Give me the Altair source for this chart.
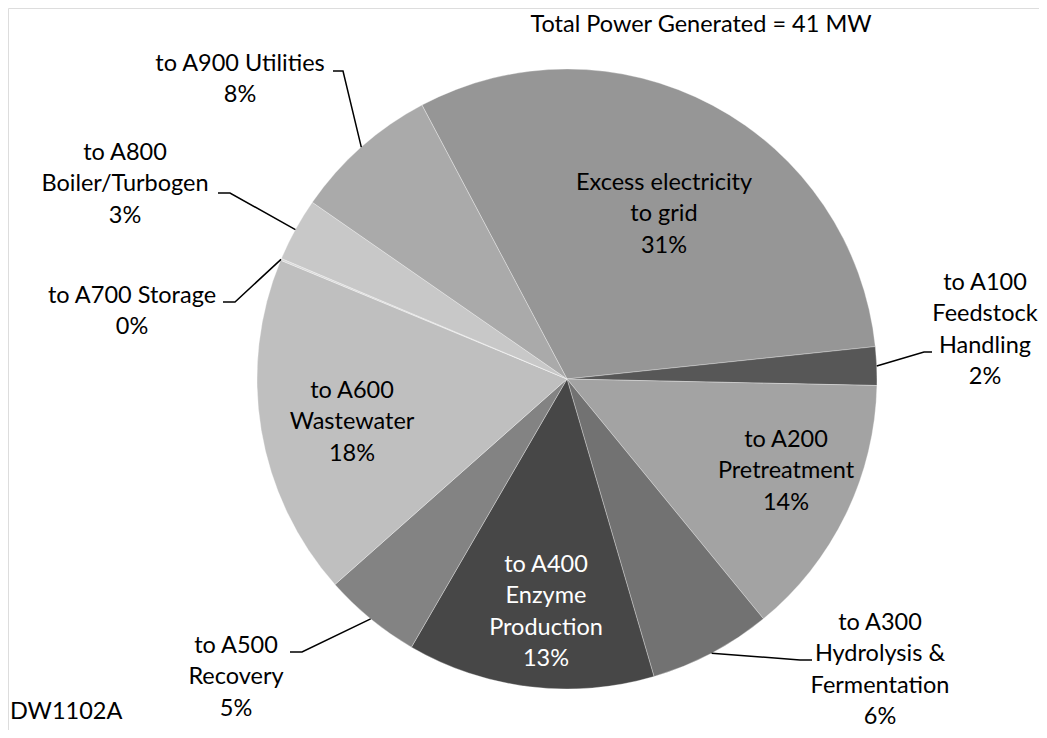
import math
import altair as alt
import pandas as pd

# ---------------- data ----------------
categories = [
    "Excess electricity to grid",
    "to A100 Feedstock Handling",
    "to A200 Pretreatment",
    "to A300 Hydrolysis & Fermentation",
    "to A400 Enzyme Production",
    "to A500 Recovery",
    "to A600 Wastewater",
    "to A700 Storage",
    "to A800 Boiler/Turbogen",
    "to A900 Utilities",
]
shares = [31.1, 2.0, 13.75, 6.4, 12.9, 5.1, 17.8, 0.1, 3.3, 7.6]  # % of 41 MW
label_lines = [
    ["Excess electricity", "to grid"],
    ["to A100", "Feedstock", "Handling"],
    ["to A200", "Pretreatment"],
    ["to A300", "Hydrolysis &", "Fermentation"],
    ["to A400", "Enzyme", "Production"],
    ["to A500", "Recovery"],
    ["to A600", "Wastewater"],
    ["to A700 Storage"],
    ["to A800", "Boiler/Turbogen"],
    ["to A900 Utilities"],
]
title_text = "Total Power Generated = 41 MW"
footnote_text = "DW1102A"

# ---------------- styling / layout ----------------
colors = ["#969696", "#575757", "#a3a3a3", "#727272", "#474747",
          "#838383", "#bfbfbf", "#d9d9d9", "#c8c8c8", "#aaaaaa"]
text_colors = ["#000000"] * 10
text_colors[4] = "#ffffff"

W, H = 1031, 722
OFF = 8  # page margin
CX, CY, R = 567 - OFF, 379 - OFF, 310
START = math.radians(-27.9)
FONT = "Lato"
FS = 23.5
LH = 31.3

# first-line centre of each label block (page coords)
label_pos = [
    (664, 183), (985, 283), (786, 440), (880, 623), (546, 565),
    (236, 646), (352, 391), (132, 296), (125, 153), (240, 64),
]
# leader lines: (label end point, elbow point) in page coords, None = inside label
leaders = [
    None, ((932, 352), (924, 352)), None, ((812, 660), (800, 660)), None,
    ((290, 652), (302, 652)), None, ((223, 302), (235, 302)),
    ((218, 193), (230, 193)), ((333, 71), (343, 71)),
]

total = sum(shares)
pie_df = pd.DataFrame({"category": categories, "share": shares, "idx": range(len(shares))})

lab_rows = []
line_rows = []
cum = 0.0
for i, (cat, s) in enumerate(zip(categories, shares)):
    mid = START + (cum + s / 2) / total * 2 * math.pi
    cum += s
    txt = "\n".join(label_lines[i] + [f"{round(s)}%"])
    lx, ly = label_pos[i]
    lab_rows.append({"category": cat, "txt": txt, "lx": lx - OFF, "ly": ly - OFF,
                     "col": text_colors[i]})
    if leaders[i] is not None:
        rx = CX + R * math.sin(mid)
        ry = CY - R * math.cos(mid)
        (ex, ey), (bx, by) = leaders[i]
        pts = [(ex - OFF, ey - OFF), (bx - OFF, by - OFF), (rx, ry)]
        for k, (px, py) in enumerate(pts):
            line_rows.append({"category": cat, "pt": k, "px": px, "py": py})
lab_df = pd.DataFrame(lab_rows)
line_df = pd.DataFrame(line_rows)

pie = alt.Chart(pie_df).mark_arc(
    outerRadius=R, stroke="#ffffff", strokeWidth=0.7, strokeOpacity=0.45
).encode(
    theta=alt.Theta("share:Q", stack=True,
                    scale=alt.Scale(range=[START, START + 2 * math.pi])),
    order=alt.Order("idx:Q"),
    color=alt.Color("category:N", scale=alt.Scale(domain=categories, range=colors),
                    legend=None),
    x=alt.value(CX),
    y=alt.value(CY),
)

leader_lines = alt.Chart(line_df).mark_line(color="#000000", strokeWidth=1.5).encode(
    x=alt.X("px:Q", scale=None, axis=None),
    y=alt.Y("py:Q", scale=None, axis=None),
    detail="category:N",
    order="pt:Q",
)

labels = alt.Chart(lab_df).mark_text(
    font=FONT, fontSize=FS, lineBreak="\n", lineHeight=LH,
    align="center", baseline="middle"
).encode(
    x=alt.X("lx:Q", scale=None, axis=None),
    y=alt.Y("ly:Q", scale=None, axis=None),
    text="txt:N",
    color=alt.Color("col:N", scale=None),
)

title_df = pd.DataFrame({"t": [title_text], "x": [701 - OFF], "y": [25 - OFF]})
title = alt.Chart(title_df).mark_text(
    font=FONT, fontSize=FS, align="center", baseline="middle", color="#000000"
).encode(x=alt.X("x:Q", scale=None, axis=None), y=alt.Y("y:Q", scale=None, axis=None),
         text="t:N")

foot_df = pd.DataFrame({"t": [footnote_text], "x": [10 - OFF], "y": [712 - OFF]})
foot = alt.Chart(foot_df).mark_text(
    font=FONT, fontSize=FS, align="left", baseline="middle", color="#000000"
).encode(x=alt.X("x:Q", scale=None, axis=None), y=alt.Y("y:Q", scale=None, axis=None),
         text="t:N")

chart = alt.layer(pie, leader_lines, labels, title, foot).properties(
    width=W, height=H, padding=0, autosize=alt.AutoSizeParams(type="none")
).configure_view(stroke=None).configure(background="#ffffff")

chart.save("out.html", embed_options={"renderer": "svg", "actions": False})
